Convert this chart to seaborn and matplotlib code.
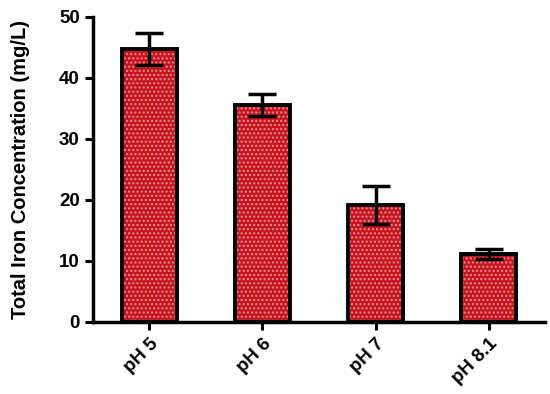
import matplotlib
matplotlib.use("Agg")
import matplotlib.pyplot as plt
import pandas as pd
import seaborn as sns

categories = ["pH 5", "pH 6", "pH 7", "pH 8.1"]
iron_mean = [44.7, 35.6, 19.1, 11.1]
iron_sd = [2.6, 1.8, 3.1, 0.8]

sns.set_style("ticks")
plt.rcParams["font.family"] = ["Liberation Sans", "DejaVu Sans"]
plt.rcParams["hatch.linewidth"] = 1.0
plt.rcParams["text.color"] = "black"
plt.rcParams["axes.labelcolor"] = "black"
plt.rcParams["xtick.color"] = "black"
plt.rcParams["ytick.color"] = "black"

df = pd.DataFrame({"ph": categories, "iron": iron_mean})

fig = plt.figure(figsize=(5.5, 3.94), dpi=100)
ax = fig.add_axes([0.169, 0.183, 0.822, 0.774])

# filled hatched bars (hatch takes the edge colour)
sns.barplot(data=df, x="ph", y="iron", color="#c4161c", width=0.49,
            saturation=1, ax=ax)
for p in ax.patches:
    p.set_hatch("....")
    p.set_facecolor("#c4161c")
    p.set_edgecolor("#f28a97")
    p.set_linewidth(0)

# black outlines on top
sns.barplot(data=df, x="ph", y="iron", fill=False, edgecolor="black",
            linewidth=2.8, width=0.49, ax=ax)

ax.errorbar(categories, iron_mean, yerr=iron_sd, fmt="none", ecolor="black",
            elinewidth=2.5, capsize=10, capthick=2.5, zorder=5)

ax.set_xlim(-0.5, 3.5)
ax.set_ylim(0, 50)
ax.set_yticks([0, 10, 20, 30, 40, 50])
ax.set_xlabel("")
ax.set_ylabel("Total Iron Concentration (mg/L)", fontsize=14.5,
              fontweight="bold", labelpad=21)

for s in ["top", "right"]:
    ax.spines[s].set_visible(False)
for s in ["left", "bottom"]:
    ax.spines[s].set_linewidth(2.5)
    ax.spines[s].set_color("black")

ax.tick_params(axis="both", length=6, width=2.2, color="black", labelsize=13.5)
for lab in ax.get_yticklabels():
    lab.set_fontweight("bold")
for lab in ax.get_xticklabels():
    lab.set_fontweight("bold")
    lab.set_rotation(45)
    lab.set_ha("right")
    lab.set_rotation_mode("anchor")

fig.savefig("out.png", dpi=100)
